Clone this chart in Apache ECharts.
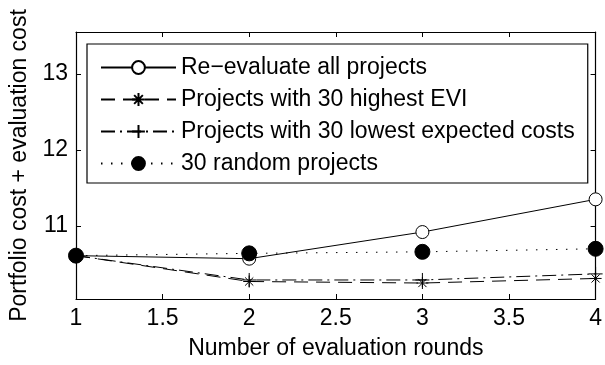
<!DOCTYPE html>
<html>
<head>
<meta charset="utf-8">
<script src="https://cdn.jsdelivr.net/npm/echarts@6/dist/echarts.min.js"></script>
<style>
  html, body { margin: 0; padding: 0; background: #fff; }
  #chart { width: 605px; height: 365px; }
</style>
</head>
<body>
<div id="chart"></div>
<script>
// Evaluation rounds on the x axis
const rounds = [1, 2, 3, 4];

// Portfolio cost + evaluation cost for each strategy
const reevaluateAll = [10.61, 10.57, 10.92, 11.35];
const highestEVI = [10.61, 10.27, 10.25, 10.31];
const lowestExpectedCosts = [10.61, 10.29, 10.29, 10.37];
const randomProjects = [10.61, 10.64, 10.66, 10.70];

const seriesNames = [
  'Re\u2212evaluate all projects',
  'Projects with 30 highest EVI',
  'Projects with 30 lowest expected costs',
  '30 random projects'
];

// Axis ticks
const xTicks = [1, 1.5, 2, 2.5, 3, 3.5, 4];
const yTicks = [11, 12, 13];

const FONT = 'Liberation Sans, Arial, Helvetica, sans-serif';
const FS = 23;
const asteriskPath = 'path://M0,5L10,5M5,0L5,10M1.6,1.6L8.4,8.4M8.4,1.6L1.6,8.4';
const plusPath = 'path://M0,5L10,5M5,0L5,10';

function pairs(values) {
  return rounds.map((r, i) => [r, values[i]]);
}

const chart = echarts.init(document.getElementById('chart'), null, { renderer: 'canvas' });

const tickStyle = { show: true, inside: true, length: 5, lineStyle: { color: '#000', width: 1 } };
const axisLineStyle = { show: true, lineStyle: { color: '#000', width: 1.2 } };
const labelText = { fontSize: FS, color: '#000', fontFamily: FONT };

chart.setOption({
  animation: false,
  backgroundColor: '#fff',
  textStyle: { fontFamily: FONT },
  grid: { left: 76, right: 8, top: 32, bottom: 65, containLabel: false },
  xAxis: [
    {
      type: 'value', min: 1, max: 4, interval: 0.5, position: 'bottom',
      name: 'Number of evaluation rounds', nameLocation: 'middle', nameGap: 38,
      nameTextStyle: labelText,
      axisLine: axisLineStyle, axisTick: tickStyle,
      axisLabel: Object.assign({ margin: 8, customValues: xTicks, formatter: v => String(v) }, labelText),
      splitLine: { show: false }
    },
    {
      type: 'value', min: 1, max: 4, interval: 0.5, position: 'top',
      axisLine: axisLineStyle, axisTick: tickStyle,
      axisLabel: { show: false }, splitLine: { show: false }
    }
  ],
  yAxis: [
    {
      type: 'value', min: 10.04, max: 13.55, position: 'left',
      name: 'Portfolio cost + evaluation cost', nameLocation: 'middle', nameGap: 44,
      nameTextStyle: labelText,
      axisLine: axisLineStyle,
      axisTick: Object.assign({ customValues: yTicks }, tickStyle),
      axisLabel: Object.assign({ margin: 8, customValues: yTicks, formatter: v => String(v) }, labelText),
      splitLine: { show: false }
    },
    {
      type: 'value', min: 10.04, max: 13.55, position: 'right',
      axisLine: axisLineStyle,
      axisTick: Object.assign({ customValues: yTicks }, tickStyle),
      axisLabel: { show: false }, splitLine: { show: false }
    }
  ],
  legend: {
    orient: 'vertical', left: 87, top: 44,
    backgroundColor: '#fff', borderColor: '#000', borderWidth: 1.2,
    padding: [12, 13, 8, 13], itemGap: 9,
    itemWidth: 75, itemHeight: 16,
    textStyle: { fontSize: FS, lineHeight: 23, color: '#000', fontFamily: FONT },
    data: seriesNames.map(n => ({ name: n }))
  },
  series: [
    {
      name: seriesNames[0], type: 'line', data: pairs(reevaluateAll),
      symbol: 'circle', symbolSize: 13, showAllSymbol: true,
      lineStyle: { color: '#000', width: 1, type: 'solid' },
      itemStyle: { color: '#fff', borderColor: '#000', borderWidth: 1 },
      z: 4
    },
    {
      name: seriesNames[1], type: 'line', data: pairs(highestEVI),
      symbol: asteriskPath, symbolSize: 12,
      lineStyle: { color: '#000', width: 1, type: [14, 8] },
      itemStyle: { color: 'none', borderColor: '#000', borderWidth: 1 },
      z: 3
    },
    {
      name: seriesNames[2], type: 'line', data: pairs(lowestExpectedCosts),
      symbol: plusPath, symbolSize: 14,
      lineStyle: { color: '#000', width: 1, type: [14, 5, 2, 5] },
      itemStyle: { color: 'none', borderColor: '#000', borderWidth: 1 },
      z: 3
    },
    {
      name: seriesNames[3], type: 'line', data: pairs(randomProjects),
      symbol: 'circle', symbolSize: 15,
      lineStyle: { color: '#000', width: 1, type: [1.5, 8.5] },
      itemStyle: { color: '#000', borderColor: '#000', borderWidth: 1 },
      z: 5
    }
  ]
});
</script>
</body>
</html>
